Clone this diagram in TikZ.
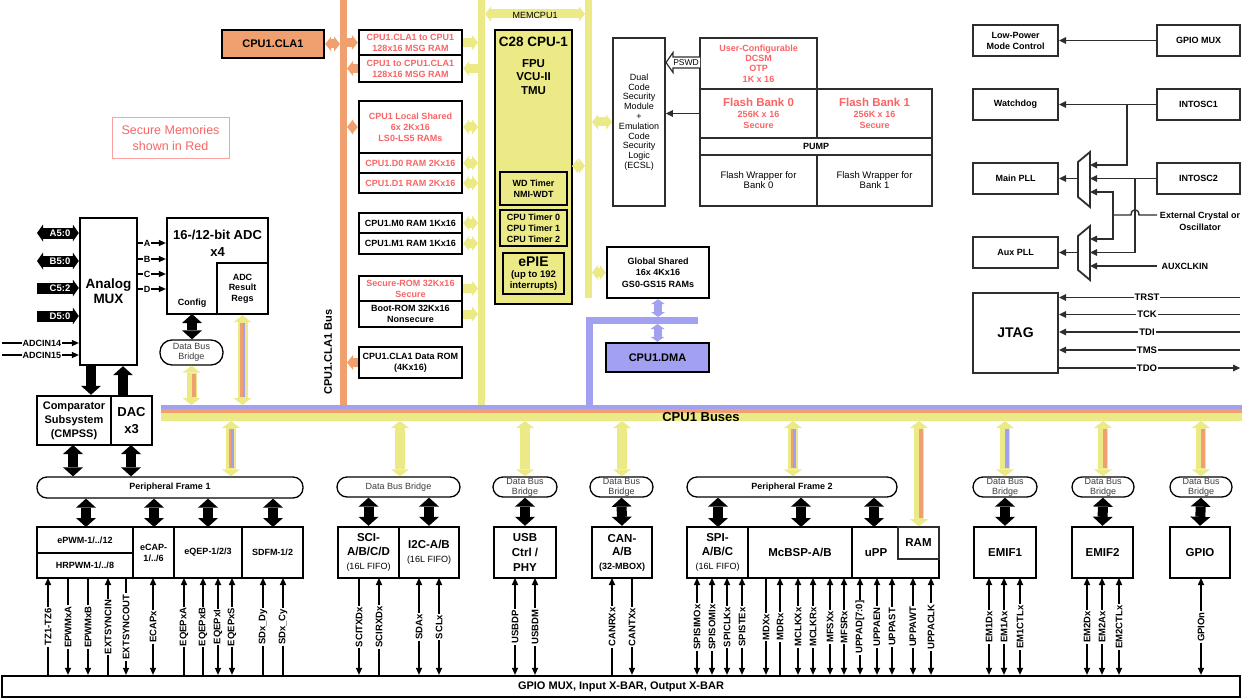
\documentclass[tikz,border=0pt]{standalone}
\usepackage{fontspec}
\setmainfont{Liberation Sans}
\usetikzlibrary{arrows.meta,calc}
\definecolor{Ylw}{RGB}{236,234,134}
\definecolor{Org}{RGB}{240,160,110}
\definecolor{Lav}{RGB}{162,160,240}
\definecolor{Rd}{RGB}{250,100,100}
\definecolor{Rl}{RGB}{255,160,160}
\definecolor{Gr}{RGB}{45,45,45}
\definecolor{Gt}{RGB}{60,60,60}
\newcommand\fz[2]{\fontsize{#1}{#2}\selectfont}
\newcommand\mybx[7]{\node[#2,minimum width={#5-#3},minimum height={#6-#4}] (#1) at ({(#3+#5)/2},{(#4+#6)/2}) {#7};}
\newcommand\mystripe[5]{\draw[draw=#5,line width=#4pt] ($(#1)+(#3,8)$) -- ($(#2)+(#3,-8)$);}
\tikzset{
 Ytip/.tip={Triangle[length=6pt,width=15pt,line width=0pt]},
 Vtip/.tip={Triangle[length=7pt,width=18pt,line width=0pt]},
 Ltip/.tip={Triangle[length=5pt,width=14pt,line width=0pt]},
 Btip/.tip={Triangle[length=9pt,width=20pt,line width=0pt]},
 Ktip/.tip={Triangle[length=6pt,width=17pt,line width=0pt]},
 Stip/.tip={Triangle[length=7pt,width=6.5pt,line width=0pt]},
 Rtip/.tip={Triangle[length=7pt,width=7pt,line width=0pt]},
 busn/.style={inner sep=0pt,draw=none,outer sep=0pt},
 ybar/.style={draw=Ylw,line width=9pt},
 obar/.style={draw=Org,line width=9pt},
 lbar/.style={draw=Lav,line width=8pt},
 vbar/.style={draw=Ylw,line width=10pt,Vtip-Vtip},
 blk/.style={draw=black,line width=10pt,Btip-Btip},
 blk1/.style={draw=black,line width=10pt,-Btip},
 kblk/.style={draw=black,line width=11pt},
 sig/.style={draw=black,line width=1.1pt},
 sU/.style={Stip-},
 sD/.style={-Stip},
 sB/.style={Stip-Stip},
 rl/.style={draw=Gr,line width=1.4pt},
 bx/.style={draw=black,line width=2.4pt,inner sep=0pt,align=center,font=\fz{9}{11}\bfseries},
 tbx/.style={draw=Gr,line width=1.9pt,inner sep=0pt,align=center,font=\fz{9.5}{10}},
 rbx/.style={draw=Gr,line width=2.2pt,inner sep=0pt,align=center,font=\fz{9}{11}\bfseries},
 redt/.style={text=Rd},
 bridge/.style={draw=black,line width=1.3pt,inner sep=0pt,rounded corners=10pt,align=center,text=Gt,font=\fz{9}{10}},
 slab/.style={rotate=90,fill=white,inner sep=1.2pt,font=\fz{9.5}{11}\bfseries},
 wlab/.style={text=white,inner sep=0pt,font=\fz{9.5}{11}\bfseries},
 plab/.style={fill=white,inner sep=1pt,font=\fz{9}{11}\bfseries},
}
\begin{document}
\begin{tikzpicture}[x=1pt,y=-1pt]
\useasboundingbox (0,0) rectangle (1242,698);
\fill[white] (0,0) rectangle (1242,698);
% ---------------- buses
\mybx{obus}{busn,fill=Org}{340}{0}{347}{405}{}
\mybx{ybusL}{busn,fill=Ylw}{478}{0}{485}{405}{}
\mybx{ybusR}{busn,fill=Ylw}{585}{0}{592}{298}{}
\mybx{lbusV}{busn,fill=Lav}{586}{317}{593}{405}{}
\mybx{lbusH}{busn,fill=Lav}{586}{317}{698}{324}{}
\mybx{bandL}{busn,fill=Lav}{161}{405}{1242}{409}{}
\mybx{bandO}{busn,fill=Org}{161}{409}{1242}{413}{}
\mybx{bandY}{busn,fill=Ylw}{161}{413}{1242}{421}{}
\node[font=\fz{13}{15}\bfseries] (buslab) at (701,417) {CPU1 Buses};
\node[rotate=90,font=\fz{11}{13}\bfseries] (clabus) at (328,352) {CPU1.CLA1 Bus};
% MEMCPU1
\coordinate (mc1) at (485,14); \coordinate (mc2) at (585,14);
\draw[ybar,Ytip-Ytip] (mc1) -- (mc2);
\node[font=\fz{9}{10}] (memlab) at (535,15) {MEMCPU1};
% ---------------- secure note
\mybx{secm}{draw=Rl,line width=1pt,text=Rd,inner sep=0pt,align=center,font=\fz{12.5}{16}}{112}{118}{229}{158}{Secure Memories\\shown in Red}
% ---------------- CLA and memories
\mybx{cla}{bx,fill=Org,font=\fz{11}{13}\bfseries}{222}{30}{324}{58}{CPU1.CLA1}
\mybx{m1}{bx,redt}{359}{30}{462}{55}{CPU1.CLA1 to CPU1\\128x16 MSG RAM}
\mybx{m2}{bx,redt}{359}{55}{462}{82}{CPU1 to CPU1.CLA1\\128x16 MSG RAM}
\mybx{ls}{bx,redt}{359}{101}{462}{153}{CPU1 Local Shared\\6x 2Kx16\\LS0-LS5 RAMs}
\mybx{d0}{bx,redt}{359}{153}{462}{173}{CPU1.D0 RAM 2Kx16}
\mybx{d1}{bx,redt}{359}{173}{462}{193}{CPU1.D1 RAM 2Kx16}
\mybx{m0}{bx}{359}{213}{462}{233}{CPU1.M0 RAM 1Kx16}
\mybx{m1r}{bx}{359}{233}{462}{254}{CPU1.M1 RAM 1Kx16}
\mybx{srom}{bx,redt}{359}{276}{462}{301}{Secure-ROM 32Kx16\\Secure}
\mybx{brom}{bx}{359}{301}{462}{327}{Boot-ROM 32Kx16\\Nonsecure}
\mybx{cdrom}{bx}{359}{347}{462}{378}{CPU1.CLA1 Data ROM\\(4Kx16)}
\draw[obar,Ytip-Ytip] (cla.east) -- (cla.east -| obus.west);
\draw[obar,-Ytip] (m1.west -| obus.east) -- (m1.west);
\draw[ybar,-Ytip] (m1.east) -- (m1.east -| ybusL.west);
\draw[obar,-Ytip] (m2.west) -- (m2.west -| obus.east);
\draw[ybar,-Ytip] (m2.east -| ybusL.west) -- (m2.east);
\draw[obar,Ytip-Ytip] (ls.west) -- (ls.west -| obus.east);
\draw[ybar,Ytip-Ytip] (ls.east) -- (ls.east -| ybusL.west);
\draw[ybar,Ytip-Ytip] (d0.east) -- (d0.east -| ybusL.west);
\draw[ybar,Ytip-Ytip] (d1.east) -- (d1.east -| ybusL.west);
\draw[ybar,Ytip-Ytip] (m0.east) -- (m0.east -| ybusL.west);
\draw[ybar,Ytip-Ytip] (m1r.east) -- (m1r.east -| ybusL.west);
\draw[ybar,-Ytip] (srom.east) -- (srom.east -| ybusL.west);
\draw[ybar,-Ytip] (brom.east) -- (brom.east -| ybusL.west);
\draw[obar,-Ytip] (cdrom.west) -- (cdrom.west -| obus.east);
% ---------------- CPU
\mybx{cpu}{bx,fill=Ylw}{495}{30}{572}{304}{}
\node[font=\fz{13.5}{15}\bfseries] (cputitle) at (533.5,42) {C28 CPU-1};
\node[align=center,font=\fz{11.5}{13.5}\bfseries] (fpu) at (533.5,77) {FPU\\VCU-II\\TMU};
\mybx{wd}{bx,line width=2pt}{500}{172}{567}{205}{WD Timer\\NMI-WDT}
\mybx{tmr}{bx,line width=2pt}{500}{210}{567}{246}{CPU Timer 0\\CPU Timer 1\\CPU Timer 2}
\mybx{pie}{bx,line width=2pt}{503}{253}{564}{294}{\fz{14}{14}ePIE\\\fz{9.5}{12}(up to 192\\\fz{9.5}{12}interrupts)}
\coordinate (cpuR) at (572,166);
\draw[ybar,Ytip-Ytip] (cpuR) -- (cpuR -| ybusR.west);
% ---------------- security / flash
\mybx{dcsm}{tbx,font=\fz{9}{9.8}}{613}{38}{665}{206}{Dual\\Code\\Security\\Module\\+\\Emulation\\Code\\Security\\Logic\\(ECSL)}
\mybx{otp}{tbx,redt,font=\fz{9}{10.3}\bfseries}{700}{38}{817}{89}{User-Configurable\\DCSM\\OTP\\1K x 16}
\mybx{fb0}{tbx,redt,font=\fz{9}{11}\bfseries}{700}{89}{817}{138}{\fz{11.5}{12}Flash Bank 0\\256K x 16\\Secure}
\mybx{fb1}{tbx,redt,font=\fz{9}{11}\bfseries}{817}{89}{932}{138}{\fz{11.5}{12}Flash Bank 1\\256K x 16\\Secure}
\mybx{pump}{tbx,font=\fz{9}{11}\bfseries}{700}{138}{932}{155}{PUMP}
\mybx{fw0}{tbx}{700}{155}{817}{206}{Flash Wrapper for\\Bank 0}
\mybx{fw1}{tbx}{817}{155}{932}{206}{Flash Wrapper for\\Bank 1}
\draw[line width=1.2pt,draw=Gr,fill=white] (700,57) -- (673,57) -- (673,52.5) -- (666,62.5) -- (673,72.5) -- (673,68) -- (700,68);
\node[font=\fz{8.5}{10},inner sep=0pt] (pswd) at (686,62.5) {PSWD};
\draw[rl,-Rtip] (fb0.west) -- (fb0.west -| dcsm.east);
\draw[ybar,Ytip-Ytip] (ybusR.east |- dcsm.west) -- (dcsm.west);
% ---------------- global shared / DMA
\mybx{gs}{bx,font=\fz{9}{11.5}\bfseries}{607}{247}{709}{298}{Global Shared\\16x 4Kx16\\GS0-GS15 RAMs}
\mybx{dma}{bx,fill=Lav,font=\fz{11}{13}\bfseries}{606}{343}{709}{372}{CPU1.DMA}
\draw[ybar,Ytip-Ytip] (ybusR.east |- gs.west) -- (gs.west);
\draw[lbar,Ltip-Ltip] (gs.south) -- (gs.south |- lbusH.north);
\draw[lbar,Ltip-Ltip] (dma.north |- lbusH.south) -- (dma.north);
% ---------------- analog
\mybx{amux}{bx,font=\fz{13.5}{15}\bfseries}{80}{218}{137}{365}{Analog\\MUX}
\mybx{adc}{bx}{167}{218}{268}{314}{}
\node[align=center,font=\fz{13}{17}\bfseries] (adct) at (217.5,243) {16-/12-bit ADC\\x4};
\node[font=\fz{9}{11}\bfseries] (cfg) at (192,303) {Config};
\mybx{regs}{bx,font=\fz{9}{10.5}\bfseries}{217}{263}{268}{314}{ADC\\Result\\Regs}
\mybx{adcbr}{bridge,rounded corners=12pt}{160}{340}{223}{365}{Data Bus\\Bridge}
\coordinate (ia) at (37,233); \coordinate (ib) at (37,261);
\coordinate (ic) at (37,288); \coordinate (id) at (37,316);
\draw[kblk,Ktip-Ktip] (ia) -- (ia -| amux.west);
\draw[kblk,Ktip-Ktip] (ib) -- (ib -| amux.west);
\draw[kblk,-Ktip] (ic) -- (ic -| amux.west);
\draw[kblk,-Ktip] (id) -- (id -| amux.west);
\node[wlab] (la) at (60,233) {A5:0};
\node[wlab] (lb) at (60,261) {B5:0};
\node[wlab] (lc) at (60,288) {C5:2};
\node[wlab] (ld) at (60,316) {D5:0};
\coordinate (i14) at (2,343); \coordinate (i15) at (2,355);
\draw[sig,-Stip] (i14) -- (i14 -| amux.west);
\draw[sig,-Stip] (i15) -- (i15 -| amux.west);
\node[plab] (l14) at (42,343) {ADCIN14};
\node[plab] (l15) at (42,355) {ADCIN15};
\foreach \yy/\t in {243/A,259/B,274/C,289/D}{
  \coordinate (o\t) at (137,\yy);
  \draw[sig,-Stip] (o\t) -- (o\t -| adc.west);
  \node[plab,inner sep=0.8pt] (lo\t) at (147,\yy) {\t};
}
\mybx{cmp}{bx,font=\fz{11}{14}\bfseries}{37}{396}{111}{445}{Comparator\\Subsystem\\(CMPSS)}
\mybx{dac}{bx,font=\fz{13}{17}\bfseries}{111}{396}{152}{445}{DAC\\x3}
\coordinate (mxo) at (91,365); \coordinate (dci) at (123,396);
\draw[blk1] (mxo) -- (mxo |- cmp.north);
\draw[blk1] (dci) -- (dci |- amux.south);
\coordinate (ac) at (192,314);
\draw[blk] (ac) -- (ac |- adcbr.north);
\coordinate (abt) at (adcbr.south); \coordinate (abb) at (adcbr.south |- bandL.north);
\draw[vbar] (abt) -- (abb);
\mystripe{abt}{abb}{2}{4}{Org}
\coordinate (rgt) at (regs.south); \coordinate (rgb) at (regs.south |- bandL.north);
\draw[vbar] (rgt) -- (rgb);
\mystripe{rgt}{rgb}{-1.2}{2.6}{Org}
\mystripe{rgt}{rgb}{1.4}{2.6}{Lav}
% ---------------- peripheral frame 1
\mybx{pf1}{bridge,text=black,font=\fz{9}{10}\bfseries}{37}{477}{303}{498}{Peripheral Frame 1}
\coordinate (p1t) at (231,421); \coordinate (p1b) at (p1t |- pf1.north);
\draw[vbar] (p1t) -- (p1b);
\mystripe{p1t}{p1b}{-1.2}{2.6}{Org}
\mystripe{p1t}{p1b}{1.4}{2.6}{Lav}
\coordinate (c1) at (73,445); \coordinate (c2) at (131,445);
\draw[blk] (c1) -- (c1 |- pf1.north);
\draw[blk] (c2) -- (c2 |- pf1.north);
\mybx{pwm}{bx}{37}{527}{133}{553}{ePWM-1/../12}
\mybx{hrpwm}{bx}{37}{553}{133}{578}{HRPWM-1/../8}
\mybx{ecap}{bx}{133}{527}{174}{578}{eCAP-\\1/../6}
\mybx{eqep}{bx}{174}{527}{242}{578}{eQEP-1/2/3}
\mybx{sdfm}{bx}{242}{527}{303}{578}{SDFM-1/2}
\coordinate (k1) at (86,527); \coordinate (k2) at (154,527);
\coordinate (k3) at (208,527); \coordinate (k4) at (273,527);
\draw[blk] (pf1.south -| k1) -- (k1);
\draw[blk] (pf1.south -| k2) -- (k2);
\draw[blk] (pf1.south -| k3) -- (k3);
\draw[blk] (pf1.south -| k4) -- (k4);
% ---------------- SCI / I2C
\mybx{br1}{bridge}{337}{477}{460}{497}{Data Bus Bridge}
\coordinate (y1t) at (400,421);
\draw[vbar] (y1t) -- (y1t |- br1.north);
\mybx{sci}{bx,font=\fz{11.5}{14}\bfseries}{338}{527}{399}{578}{SCI-\\A/B/C/D\\\fz{9}{12}\mdseries(16L FIFO)}
\mybx{i2c}{bx,font=\fz{11.5}{14}\bfseries}{399}{527}{459}{578}{I2C-A/B\\\fz{9}{12}\mdseries(16L FIFO)}
\draw[blk] (br1.south -| sci.north) -- (sci.north);
\draw[blk] (br1.south -| i2c.north) -- (i2c.north);
% ---------------- USB
\mybx{br2}{bridge}{493}{477}{557}{497}{Data Bus\\Bridge}
\coordinate (y2t) at (525,421);
\draw[vbar] (y2t) -- (y2t |- br2.north);
\mybx{usb}{bx,font=\fz{11.5}{15}\bfseries}{494}{527}{556}{578}{USB\\Ctrl /\\PHY}
\draw[blk] (br2.south) -- (usb.north);
% ---------------- CAN
\mybx{br3}{bridge}{590}{477}{653}{497}{Data Bus\\Bridge}
\coordinate (y3t) at (622,421);
\draw[vbar] (y3t) -- (y3t |- br3.north);
\mybx{can}{bx,font=\fz{11.5}{13.5}\bfseries}{592}{527}{652}{578}{CAN-\\A/B\\\fz{9}{12}(32-MBOX)}
\draw[blk] (br3.south) -- (can.north);
% ---------------- peripheral frame 2
\mybx{pf2}{bridge,text=black,font=\fz{9}{10}\bfseries}{687}{477}{897}{497}{Peripheral Frame 2}
\coordinate (p2t) at (793,421); \coordinate (p2b) at (p2t |- pf2.north);
\draw[vbar] (p2t) -- (p2b);
\mystripe{p2t}{p2b}{-1.2}{2.6}{Org}
\mystripe{p2t}{p2b}{1.4}{2.6}{Lav}
\mybx{spi}{bx,font=\fz{11.5}{14}\bfseries}{687}{527}{748}{578}{SPI-\\A/B/C\\\fz{9}{12}\mdseries(16L FIFO)}
\mybx{mcbsp}{bx,font=\fz{11.5}{13}\bfseries}{748}{527}{852}{578}{McBSP-A/B}
\mybx{upp}{bx}{852}{527}{939}{578}{}
\node[font=\fz{11.5}{13}\bfseries] (uppl) at (876,553) {uPP};
\mybx{ram}{bx,draw=Gr,line width=1.6pt,font=\fz{11.5}{13}\bfseries}{898}{527}{939}{559}{RAM}
\coordinate (k5) at (718,527); \coordinate (k6) at (801,527); \coordinate (k7) at (874,527);
\draw[blk] (pf2.south -| k5) -- (k5);
\draw[blk] (pf2.south -| k6) -- (k6);
\draw[blk] (pf2.south -| k7) -- (k7);
\coordinate (rmt) at (919,421); \coordinate (rmb) at (rmt |- ram.north);
\draw[vbar] (rmt) -- (rmb);
\mystripe{rmt}{rmb}{2}{4}{Org}
% ---------------- EMIF1 / EMIF2 / GPIO
\mybx{br4}{bridge}{973}{477}{1037}{497}{Data Bus\\Bridge}
\mybx{br5}{bridge}{1072}{477}{1134}{497}{Data Bus\\Bridge}
\mybx{br6}{bridge}{1170}{477}{1232}{497}{Data Bus\\Bridge}
\mybx{emif1}{bx,font=\fz{11.5}{13}\bfseries}{974}{527}{1036}{578}{EMIF1}
\mybx{emif2}{bx,font=\fz{11.5}{13}\bfseries}{1072}{527}{1133}{578}{EMIF2}
\mybx{gpiob}{bx,font=\fz{11.5}{13}\bfseries}{1170}{527}{1230}{578}{GPIO}
\coordinate (e1t) at (1005,421); \coordinate (e1b) at (e1t |- br4.north);
\draw[vbar] (e1t) -- (e1b); \mystripe{e1t}{e1b}{2}{4}{Lav}
\coordinate (e2t) at (1103,421); \coordinate (e2b) at (e2t |- br5.north);
\draw[vbar] (e2t) -- (e2b); \mystripe{e2t}{e2b}{2}{4}{Org}
\coordinate (e3t) at (1201,421); \coordinate (e3b) at (e3t |- br6.north);
\draw[vbar] (e3t) -- (e3b); \mystripe{e3t}{e3b}{2}{4}{Org}
\draw[blk] (br4.south) -- (emif1.north);
\draw[blk] (br5.south) -- (emif2.north);
\draw[blk] (br6.south) -- (gpiob.north);
% ---------------- GPIO MUX bar and signals
\mybx{gpio}{bx,font=\fz{11}{13}\bfseries}{2}{676}{1240}{697}{GPIO MUX, Input X-BAR, Output X-BAR}
\foreach \x/\t/\s in {48/TZ1-TZ6/sU,68/EPWMxA/sD,88/EPWMxB/sD,108/EXTSYNCIN/sU,126/EXTSYNCOUT/sD,
  153/ECAPx/sB,184/EQEPxA/sU,203/EQEPxB/sU,218/EQEPxI/sB,232/EQEPxS/sB,263/SDx\_Dy/sU,283/SDx\_Cy/sU,
  359/SCITXDx/sD,379/SCIRXDx/sU,419/SDAx/sB,439/SCLx/sB,515/USBDP/sB,535/USBDM/sB,612/CANRXx/sU,632/CANTXx/sD,
  697/SPISIMOx/sB,712/SPISOMIx/sB,727/SPICLKx/sB,742/SPISTEx/sB,766/MDXx/sD,780/MDRx/sU,798/MCLKXx/sB,
  813/MCLKRx/sB,830/MFSXx/sB,844/MFSRx/sB,860/UPPAD[7:0]/sB,877/UPPAEN/sB,892/UPPAST/sB,913/UPPAWT/sB,
  931/UPPACLK/sB,989/EM1Dx/sB,1004/EM1Ax/sB,1020/EM1CTLx/sB,1087/EM2Dx/sB,1102/EM2Ax/sB,1119/EM2CTLx/sB,
  1201/GPIOn/sB}{
  \coordinate (st\x) at (\x,578);
  \draw[sig,\s] (st\x) -- (st\x |- gpio.north);
  \node[slab] (sl\x) at (\x,627) {\t};
}
% ---------------- right column
\mybx{lpm}{rbx}{973}{25}{1058}{56}{Low-Power\\Mode Control}
\mybx{gmux}{rbx}{1157}{25}{1240}{56}{GPIO MUX}
\mybx{wdog}{rbx}{973}{89}{1058}{120}{Watchdog}
\mybx{osc1}{rbx}{1157}{89}{1240}{120}{INTOSC1}
\mybx{mpll}{rbx}{973}{163}{1058}{194}{Main PLL}
\mybx{osc2}{rbx}{1157}{163}{1240}{194}{INTOSC2}
\mybx{apll}{rbx}{973}{237}{1058}{268}{Aux PLL}
\mybx{jtag}{rbx,font=\fz{14}{16}\bfseries}{973}{293}{1058}{373}{JTAG}
\draw[rl,-Rtip] (gmux.west) -- (lpm.east);
\draw[rl,-Rtip] (osc1.west) -- (wdog.east);
\draw[rl,line width=1.8pt,fill=white] (1078,162) -- (1090,152) -- (1090,207) -- (1078,197) -- cycle;
\draw[rl,line width=1.8pt,fill=white] (1078,236) -- (1090,226) -- (1090,280) -- (1078,270) -- cycle;
\coordinate (mA1) at (1090,165); \coordinate (mA3) at (1090,192);
\coordinate (mB1) at (1090,239); \coordinate (mB2) at (1090,252.5); \coordinate (mB3) at (1090,266);
\coordinate (mAo) at (1078,178.5); \coordinate (mBo) at (1078,252.5);
\coordinate (j1) at (1127,104.5); \coordinate (j2) at (1135,178.5);
\draw[rl,-Rtip] (j1) |- (mA1);
\draw[rl,-Rtip] (osc2.west) -- (osc2.west -| mA1);
\draw[rl,-Rtip] (j2) |- (mB2);
\draw[rl,Rtip-Rtip] (mA3) -- (1113,192) -- (1113,239) -- (mB1);
\coordinate (xt) at (1157,215); \coordinate (xv) at (1113,215);
\draw[rl] (xt) -- (1139,215) .. controls (1139,208) and (1131,208) .. (1131,215) -- (xv);
\coordinate (ax) at (1157,266);
\draw[rl,-Rtip] (ax) -- (mB3);
\draw[rl,-Rtip] (mAo) -- (mAo -| mpll.east);
\draw[rl,-Rtip] (mBo) -- (mBo -| apll.east);
\node[align=center,font=\fz{9}{12}\bfseries] (xl) at (1200,221) {External Crystal or\\Oscillator};
\node[anchor=west,font=\fz{9}{11}\bfseries] (axl) at (1158,266) {AUXCLKIN};
\foreach \yy/\t/\n in {297.5/TRST/1,314.5/TCK/2,332/TDI/3,350/TMS/4}{
  \coordinate (jr\n) at (1240,\yy);
  \draw[rl,-Rtip] (jr\n) -- (jr\n -| jtag.east);
  \node[plab,font=\fz{9.5}{11}\bfseries] (jl\n) at (1147,\yy) {\t};
}
\coordinate (jr5) at (1240,368);
\draw[rl,-Rtip] (jr5 -| jtag.east) -- (jr5);
\node[plab,font=\fz{9.5}{11}\bfseries] (jl5) at (1147,368) {TDO};
\end{tikzpicture}
\end{document}
